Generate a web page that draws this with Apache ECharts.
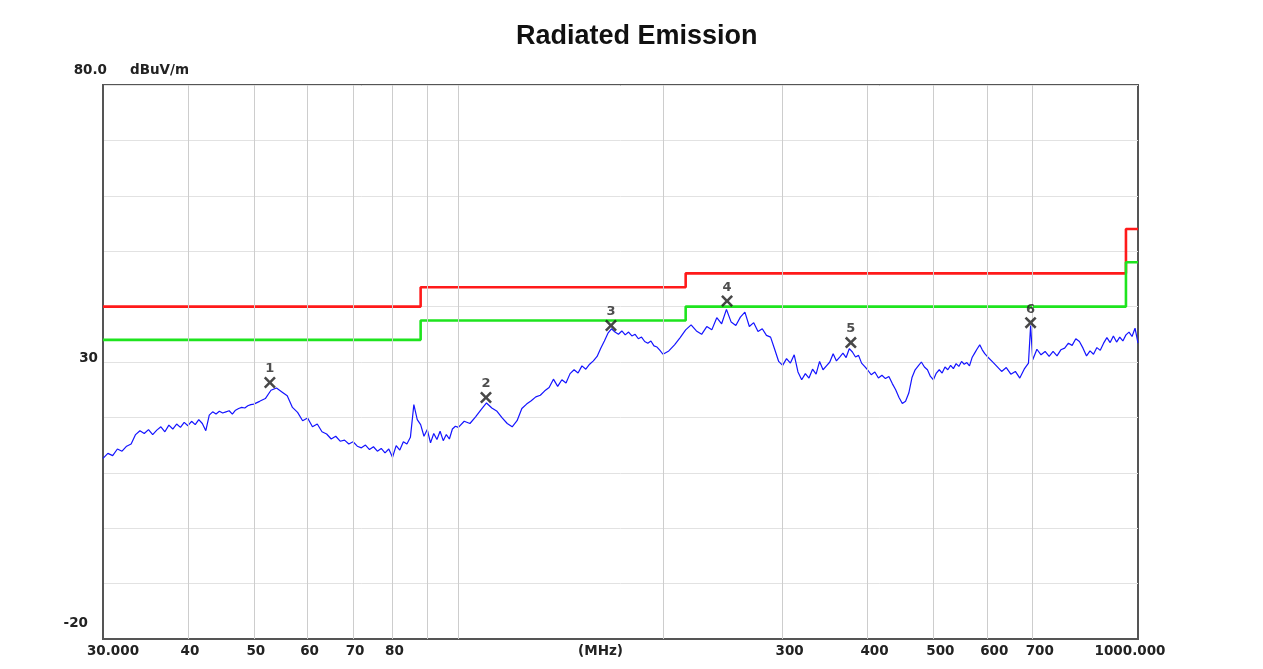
<!DOCTYPE html>
<html>
<head>
<meta charset="utf-8">
<title>Radiated Emission</title>
<script src="https://cdn.jsdelivr.net/npm/echarts@6/dist/echarts.min.js"></script>
<style>
  html, body { margin: 0; padding: 0; background: #fff; }
  #topRule { position: absolute; left: 8px; right: 5px; top: 7px; border-top: 2px solid #555; }
  #chart { width: 1263px; height: 669px; }
</style>
</head>
<body>
<div id="topRule"></div>
<div id="chart"></div>
<script>
// trace readings, MHz / dBuV/m, per band
const freq30 = [30, 30.5, 31, 31.5, 32, 32.5, 33, 33.5, 34, 34.5, 35, 35.5, 36, 36.5, 37, 37.5, 38, 38.5, 39, 39.5,
  40, 40.5, 41, 41.5, 42, 42.5, 43, 43.5, 44, 44.5, 45, 45.5, 46, 46.5, 47, 47.5, 48, 48.5, 49, 49.5]
const level30 = [12.6, 13.5, 13.1, 14.3, 13.9, 14.8, 15.2, 16.9, 17.6, 17.1, 17.8, 16.9, 17.7, 18.3, 17.4, 18.6, 17.9, 18.8, 18.2, 19.1,
  18.5, 19.3, 18.7, 19.6, 18.9, 17.6, 20.4, 21.0, 20.6, 21.1, 20.8, 21.0, 21.2, 20.6, 21.3, 21.6, 21.8, 21.7, 22.1, 22.3]

const freq50 = [50, 51, 52, 53, 54, 55, 56, 57, 58, 59, 60, 61, 62, 63, 64, 65, 66, 67, 68, 69,
  70, 71, 72, 73, 74, 75, 76, 77, 78, 79, 80, 81, 82, 83, 84, 85, 86, 87, 88, 89,
  90, 91, 92, 93, 94, 95, 96, 97, 98, 99]
const level50 = [22.4, 22.9, 23.4, 24.9, 25.3, 24.6, 23.9, 21.8, 20.9, 19.4, 19.9, 18.3, 18.8, 17.4, 17.0, 16.1, 16.6, 15.7, 15.9, 15.2,
  15.6, 14.8, 14.5, 15.0, 14.2, 14.7, 13.9, 14.4, 13.6, 14.3, 12.8, 14.9, 14.1, 15.6, 15.2, 16.4, 22.3, 19.6, 18.7, 16.6,
  17.8, 15.4, 17.1, 16.0, 17.5, 15.8, 16.9, 16.1, 17.9, 18.4]

const freq100 = [100, 102, 104, 106, 108, 110, 112, 114, 116, 118, 120, 122, 124, 126, 128, 130, 132, 134, 136, 138,
  140, 142, 144, 146, 148, 150, 152, 154, 156, 158, 160, 162, 164, 166, 168, 170, 172, 174, 176, 178,
  180, 182, 184, 186, 188, 190, 192, 194, 196, 198]
const level100 = [18.2, 19.3, 18.9, 20.1, 21.4, 22.6, 21.7, 21.1, 19.9, 18.9, 18.3, 19.4, 21.6, 22.4, 23.0, 23.7, 24.0, 24.8, 25.4, 26.9,
  25.6, 26.8, 26.2, 27.9, 28.6, 28.0, 29.3, 28.7, 29.6, 30.2, 31.0, 32.5, 33.8, 35.2, 36.0, 35.4, 35.0, 35.6, 34.9, 35.4,
  34.7, 35.0, 34.2, 34.5, 33.7, 33.4, 33.8, 32.9, 32.7, 32.1]

const freq200 = [200, 204, 208, 212, 216, 220, 224, 228, 232, 236, 240, 244, 248, 252, 256, 260, 264, 268, 272, 276,
  280, 284, 288, 292, 296, 300, 304, 308, 312, 316, 320, 324, 328, 332, 336, 340, 344, 348, 352, 356,
  360, 364, 368, 372, 376, 380, 384, 388, 392, 396]
const level200 = [31.4, 32.0, 33.1, 34.4, 35.8, 36.7, 35.6, 35.0, 36.4, 35.8, 38.0, 36.9, 39.5, 37.2, 36.6, 38.1, 39.0, 36.4, 37.1, 35.5,
  36.0, 34.8, 34.5, 32.3, 30.1, 29.4, 30.6, 29.8, 31.3, 28.2, 26.8, 27.9, 27.1, 28.7, 27.8, 30.1, 28.6, 29.3, 30.0, 31.5,
  30.2, 30.9, 31.6, 30.8, 32.4, 31.8, 30.9, 31.2, 29.8, 29.2]

const freq400 = [400, 405, 410, 415, 420, 425, 430, 435, 440, 445, 450, 455, 460, 465, 470, 475, 480, 485, 490, 495,
  500, 505, 510, 515, 520, 525, 530, 535, 540, 545, 550, 555, 560, 565, 570, 575, 580, 585, 590, 595]
const level400 = [28.6, 27.7, 28.2, 27.1, 27.6, 27.0, 27.4, 26.1, 25.0, 23.6, 22.5, 22.9, 24.4, 27.2, 28.6, 29.3, 30.0, 29.1, 28.6, 27.4,
  26.8, 28.0, 28.6, 28.0, 29.1, 28.6, 29.4, 28.8, 29.7, 29.2, 30.1, 29.6, 29.9, 29.3, 30.8, 31.6, 32.4, 33.1, 32.2, 31.5]

const freq600 = [600, 610, 620, 630, 640, 650, 660, 670, 680, 690, 695, 700, 710, 720, 730, 740, 750, 760, 770, 780,
  790, 800, 810, 820, 830, 840, 850, 860, 870, 880, 890, 900, 910, 920, 930, 940, 950, 960, 970, 980,
  990, 1000]
const level600 = [31.0, 30.1, 29.2, 28.3, 29.0, 27.8, 28.3, 27.1, 28.7, 29.8, 36.6, 30.4, 32.3, 31.3, 31.9, 31.0, 31.9, 31.1, 32.2, 32.5,
  33.4, 33.0, 34.2, 33.7, 32.5, 31.1, 32.0, 31.4, 32.6, 32.1, 33.4, 34.4, 33.5, 34.7, 33.6, 34.5, 33.8, 34.9, 35.4, 34.6,
  36.1, 33.4]

// limit lines (FCC class B) and margin line
const limitFreq = [30, 88, 88, 216, 216, 960, 960, 1000]
const limitLevel = [40, 40, 43.5, 43.5, 46, 46, 54, 54]
const marginLevel = [34, 34, 37.5, 37.5, 40, 40, 48, 48]

// peak markers
const markerFreq = [52.8, 109.8, 167.7, 248.5, 378, 695]
const markerLevel = [26.3, 23.6, 36.6, 41.0, 33.5, 37.1]
const markerName = ['1', '2', '3', '4', '5', '6']

// axis ticks
const xTickValues = [30, 40, 50, 60, 70, 80, 300, 400, 500, 600, 700, 1000]
const xTickText = ['30.000', '40', '50', '60', '70', '80', '300', '400', '500', '600', '700', '1000.000']
const xTickStyle = ['l', 'n', 'n', 'n', 'n', 'n', 'r', 'r', 'r', 'r', 'r', 'e']
const xGridValues = [40, 50, 60, 70, 80, 90, 100, 200, 300, 400, 500, 600, 700]

const font = 'DejaVu Sans'
const pairs = (fs, vs) => fs.map((f, i) => [f, vs[i]])

const traceData = [].concat(
  pairs(freq30, level30),
  pairs(freq50, level50),
  pairs(freq100, level100),
  pairs(freq200, level200),
  pairs(freq400, level400),
  pairs(freq600, level600)
)

const chart = echarts.init(document.getElementById('chart'))

const option = {
  animation: false,
  backgroundColor: '#fff',
  title: {
    text: 'Radiated Emission',
    left: 511,
    top: 18,
    textStyle: { fontFamily: 'Liberation Sans', fontSize: 27, fontWeight: 'bold', color: '#111' }
  },
  grid: {
    left: 103, right: 125, top: 85, bottom: 30,
    outerBoundsMode: 'none',
    show: true, borderColor: '#555', borderWidth: 2
  },
  xAxis: {
    type: 'log',
    logBase: 10,
    min: 30,
    max: 1000,
    name: '(MHz)',
    nameLocation: 'middle',
    nameGap: 5,
    nameMoveOverlap: false,
    nameTextStyle: {
      fontFamily: font, fontWeight: 'bold', fontSize: 13.5, color: '#222',
      verticalAlign: 'top', padding: [0, 40, 0, 0]
    },
    axisLine: { show: true, onZero: false, lineStyle: { color: '#555', width: 2 } },
    axisTick: { show: false },
    splitLine: { show: false },
    minorSplitLine: { show: false },
    axisLabel: {
      customValues: xTickValues,
      margin: 5,
      fontFamily: font, fontWeight: 'bold', fontSize: 13.5, color: '#222',
      formatter: (v) => {
        const i = xTickValues.findIndex(t => Math.abs(t - v) < t * 0.01)
        if (i < 0) return ''
        return '{' + xTickStyle[i] + '|' + xTickText[i] + '}'
      },
      rich: {
        l: { padding: [0, 0, 0, 20] },
        n: { padding: [0, 0, 0, 4] },
        r: { padding: [0, 0, 0, 14] },
        e: { padding: [0, 16, 0, 0] }
      }
    }
  },
  yAxis: {
    type: 'value',
    min: -20,
    max: 80,
    interval: 10,
    name: 'dBuV/m',
    nameLocation: 'end',
    nameGap: 8,
    nameTextStyle: {
      fontFamily: font, fontWeight: 'bold', fontSize: 13.5, color: '#222',
      align: 'left', padding: [0, 0, 0, 27]
    },
    axisLine: { show: true, lineStyle: { color: '#555', width: 2 } },
    axisTick: { show: false },
    splitLine: { show: true, lineStyle: { color: '#e2e2e2', width: 1 } },
    axisLabel: {
      margin: -4,
      fontFamily: font, fontWeight: 'bold', fontSize: 13.5, color: '#222',
      formatter: (v) => {
        if (v === 80) return '{t|80.0}'
        if (v === 30) return '{m|30}'
        if (v === -20) return '{b|-20}'
        return ''
      },
      rich: {
        t: { padding: [0, 0, 30, 0] },
        m: { padding: [0, 9, 8, 0] },
        b: { padding: [0, 19, 32, 0] }
      }
    }
  },
  series: [
    {
      // vertical grid
      type: 'line',
      data: [],
      z: 1,
      markLine: {
        silent: true,
        symbol: 'none',
        label: { show: false },
        lineStyle: { color: '#cdcdcd', width: 1, type: 'solid' },
        data: xGridValues.map(f => ({ xAxis: f }))
      }
    },
    {
      name: 'Trace',
      type: 'line',
      data: traceData,
      showSymbol: false,
      z: 3,
      lineStyle: { color: '#1414ff', width: 1.2 }
    },
    {
      name: 'Limit',
      type: 'line',
      data: pairs(limitFreq, limitLevel),
      showSymbol: false,
      z: 4,
      lineStyle: { color: '#ff1a1a', width: 2.6 }
    },
    {
      name: 'Margin',
      type: 'line',
      data: pairs(limitFreq, marginLevel),
      showSymbol: false,
      z: 4,
      lineStyle: { color: '#1ee41e', width: 2.6 }
    },
    {
      name: 'Peaks',
      type: 'scatter',
      z: 5,
      symbol: 'path://M0,1.5L1.5,0L5,3.5L8.5,0L10,1.5L6.5,5L10,8.5L8.5,10L5,6.5L1.5,10L0,8.5L3.5,5Z',
      symbolSize: 12,
      itemStyle: { color: '#1a1a1a' },
      label: {
        show: true,
        position: 'top',
        distance: 1,
        fontFamily: font, fontWeight: 'bold', fontSize: 13, color: '#222',
        formatter: (p) => p.name
      },
      data: markerFreq.map((f, i) => ({ name: markerName[i], value: [f, markerLevel[i]] }))
    }
  ]
}

chart.setOption(option)
</script>
</body>
</html>
